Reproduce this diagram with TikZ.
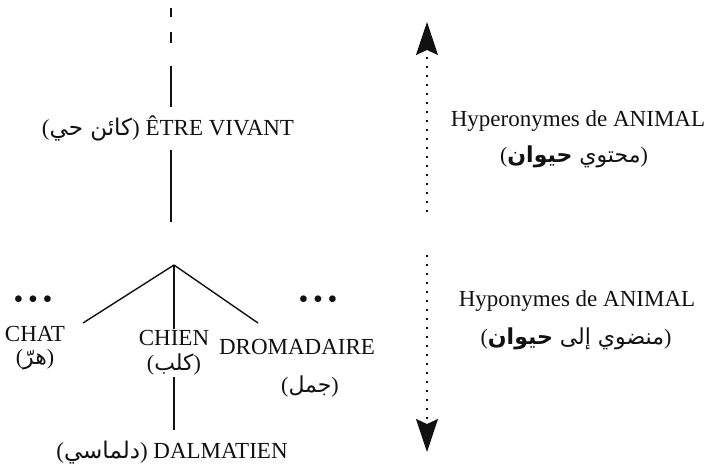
\documentclass[tikz,border=0pt]{standalone}
\usepackage{fontspec}
\setmainfont{Liberation Serif}
\newfontfamily\arabicfont[Script=Arabic]{DejaVu Sans}
\TeXXeTstate=1
\usetikzlibrary{arrows.meta}
\definecolor{treeink}{HTML}{111111}

\newcommand{\arabtxt}[1]{{\arabicfont\beginR #1\endR}}

\begin{document}
\begin{tikzpicture}[x=1pt,y=-1pt,
    lbl/.style={font=\fontsize{23}{25}\selectfont,text=treeink,inner sep=1pt},
    arlbl/.style={font=\fontsize{22}{24}\selectfont,text=treeink,inner sep=1pt},
    dotrow/.style={font=\fontsize{28}{30}\selectfont,text=treeink,inner sep=0pt},
    branch/.style={treeink,line width=1.4pt},
    scale line/.style={treeink,line width=1.7pt,dash pattern=on 1.6pt off 7.4pt,
      -{Stealth[length=33pt,width=22pt,inset=5pt]}}]
  \useasboundingbox (0,0) rectangle (707,475);

  % upper chain
  \draw[branch] (171,8) -- (171,17);
  \draw[branch] (171,32) -- (171,43);
  \coordinate (vtop) at (171,66);
  \node[lbl] (etre) at (168,128) {(\arabtxt{كائن حي}) ÊTRE VIVANT};
  \coordinate (vbot) at (171,222);
  \draw[branch,shorten >=7pt] (vtop) -- (vtop |- etre.north);
  \draw[branch,shorten <=8pt] (vbot |- etre.south) -- (vbot);

  % hyponyms
  \coordinate (apex) at (174,265);
  \node[dotrow] (dotsl) at (33,302) {•\,•\,•};
  \node[dotrow] (dotsr) at (318,302) {•\,•\,•};
  \node[lbl] (chat) at (35,334) {CHAT};
  \node[arlbl] (chatar) at (35,360) {(\arabtxt{هرّ})};
  \node[lbl] (chien) at (174,338) {CHIEN};
  \node[arlbl] (chienar) at (174,364) {(\arabtxt{كلب})};
  \node[lbl] (drom) at (297,347) {DROMADAIRE};
  \node[arlbl] (dromar) at (310,386) {(\arabtxt{جمل})};
  \node[lbl] (dalm) at (172,453) {(\arabtxt{دلماسي}) DALMATIEN};
  \coordinate (chatend) at (83,323);
  \coordinate (dromend) at (258,323);

  \draw[branch] (apex) -- (chatend);
  \draw[branch] (apex) -- (chien.north);
  \draw[branch] (apex) -- (dromend);
  \draw[branch,shorten <=1pt,shorten >=10pt] (chienar.south) -- (chienar.south |- dalm.north);

  % right-hand scale
  \coordinate (uptail) at (427,212);
  \coordinate (uptip) at (427,22);
  \coordinate (dntail) at (427,255);
  \coordinate (dntip) at (427,452);
  \draw[scale line] (uptail) -- (uptip);
  \draw[scale line] (dntail) -- (dntip);

  \node[lbl] (hyper) at (578,121) {Hyperonymes de ANIMAL};
  \node[arlbl] (hyperar) at (574,157) {(\arabtxt{محتوي \textbf{حيوان}})};
  \node[lbl] (hypo) at (577,301) {Hyponymes de ANIMAL};
  \node[arlbl] (hypoar) at (576,339) {(\arabtxt{منضوي إلى \textbf{حيوان}})};
\end{tikzpicture}
\end{document}
